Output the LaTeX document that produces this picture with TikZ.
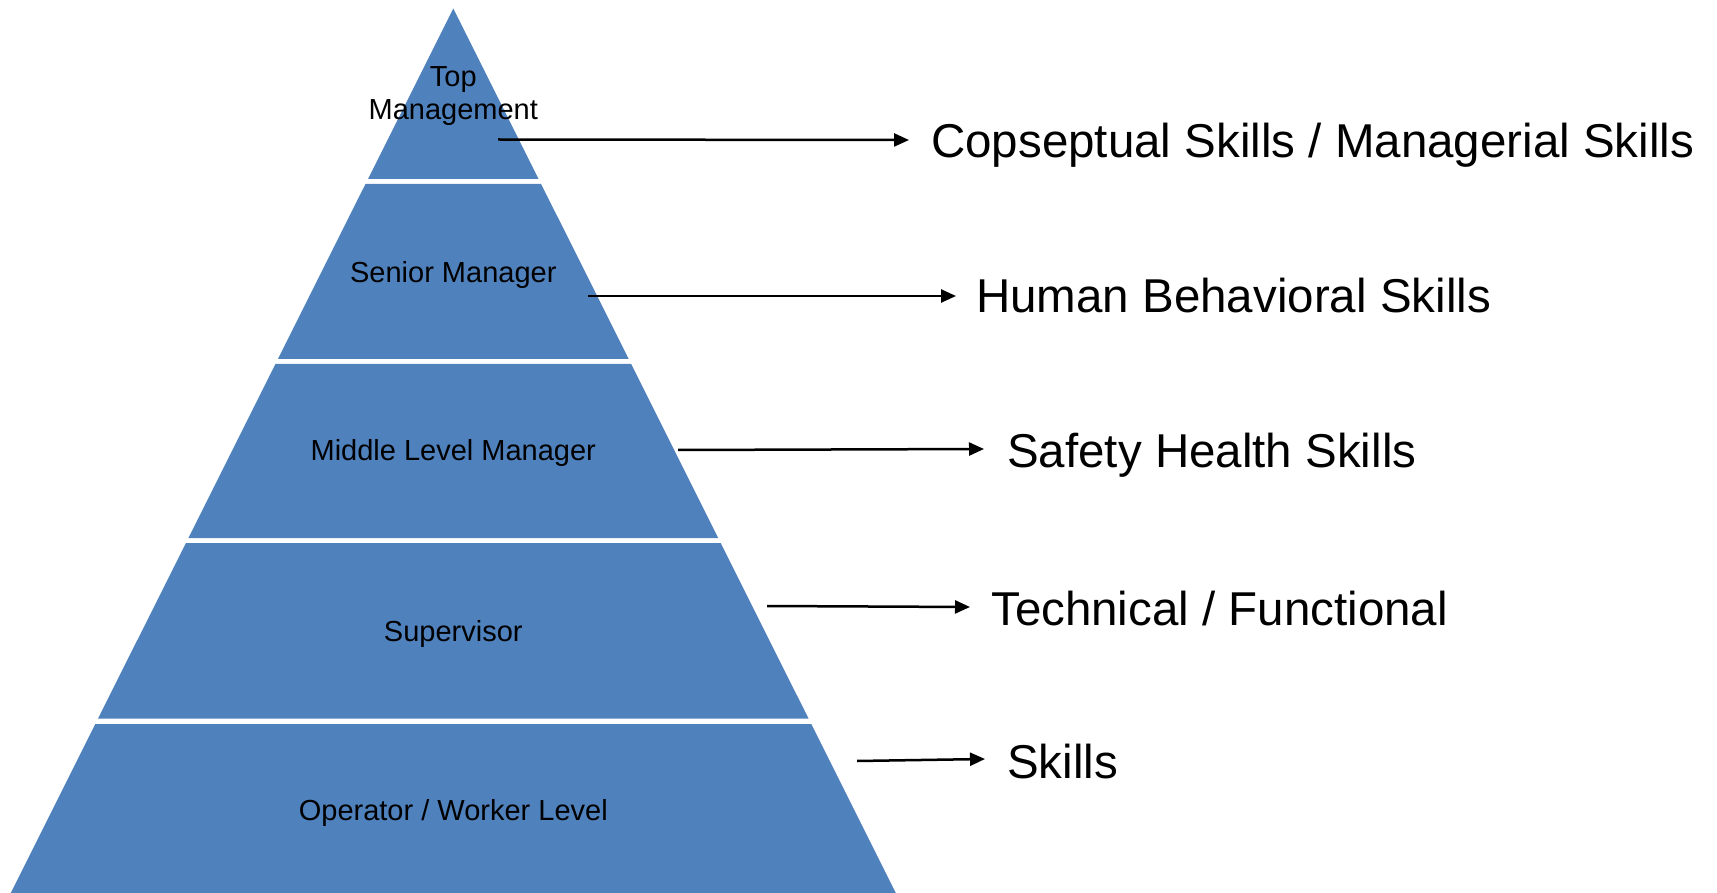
\documentclass[tikz,border=0pt]{standalone}
\usepackage{fontspec}
\setmainfont{Liberation Sans}
\usetikzlibrary{arrows.meta}
\definecolor{layerblue}{RGB}{79,129,189}
\begin{document}
\begin{tikzpicture}[x=1pt,y=-1pt,
  layer/.style={fill=layerblue,draw=none},
  lvl/.style={inner sep=0pt,anchor=base,font=\fontsize{29}{33}\selectfont,text=black},
  skill/.style={inner sep=0pt,anchor=base west,font=\fontsize{47.5}{52}\selectfont,text=black},
  conn/.style={line width=2.5pt,-{Triangle[length=15pt,width=13pt]}}]
\useasboundingbox (0,0) rectangle (1717,893);
% layers
\fill[layer] (453.3,8.5) -- (538.6,179) -- (368.0,179) -- cycle;
\fill[layer] (365.5,184) -- (541.1,184) -- (628.7,359) -- (277.9,359) -- cycle;
\fill[layer] (275.4,364) -- (631.2,364) -- (718.2,538) -- (188.4,538) -- cycle;
\fill[layer] (185.9,543) -- (720.7,543) -- (808.5,718.5) -- (98.1,718.5) -- cycle;
\fill[layer] (95.3,724) -- (811.3,724) -- (895.8,893) -- (10.8,893) -- cycle;
% level labels
\node[lvl,anchor=north,align=center] (top) at (453.3,66.7) {Top\\Management};
\node[lvl] (senior) at (453.3,282.5) {Senior Manager};
\node[lvl] (middle) at (453.3,460.5) {Middle Level Manager};
\node[lvl] (super) at (453.3,641.5) {Supervisor};
\node[lvl] (oper) at (453.3,820.5) {Operator / Worker Level};
% skill labels
\node[skill] (k1) at (931,158) {Copseptual Skills / Managerial Skills};
\node[skill] (k2) at (976,313) {Human Behavioral Skills};
\node[skill] (k3) at (1007,467) {Safety Health Skills};
\node[skill] (k4) at (991,625) {Technical / Functional};
\node[skill] (k5) at (1007,778) {Skills};
% connectors
\coordinate (s1) at (498,139.5); \coordinate (e1) at (909,140);
\coordinate (s2) at (588,296);   \coordinate (e2) at (956,296);
\coordinate (s3) at (678,450);   \coordinate (e3) at (984,449);
\coordinate (s4) at (767,606);   \coordinate (e4) at (970,607);
\coordinate (s5) at (857,761);   \coordinate (e5) at (985,759);
\draw[conn] (s1) -- (e1);
\draw[conn] (s2) -- (e2);
\draw[conn] (s3) -- (e3);
\draw[conn] (s4) -- (e4);
\draw[conn] (s5) -- (e5);
\end{tikzpicture}
\end{document}
